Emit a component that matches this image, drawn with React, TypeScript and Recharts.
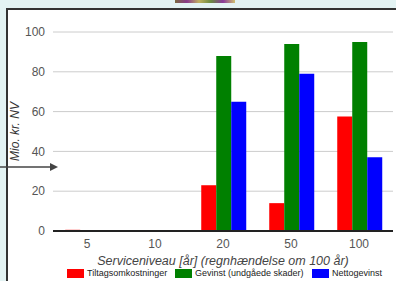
import React from "react";
import { BarChart, Bar, XAxis, YAxis, CartesianGrid } from "recharts";

const levels = ["5", "10", "20", "50", "100"];
const costs = [0.6, 0, 23, 14, 57.5];
const gains = [0, 0, 88, 94, 95];
const netGains = [0, 0, 65, 79, 37];
const yTicks = [0, 20, 40, 60, 80, 100];

const seriesNames = ["Tiltagsomkostninger", "Gevinst (undgåede skader)", "Nettogevinst"];
const seriesColors = ["#ff0000", "#008000", "#0000ff"];
const legendLeft = [67, 175, 312];

const data = levels.map((level, i) => ({
  level,
  cost: costs[i],
  gain: gains[i],
  net: netGains[i],
}));

const font = "'Liberation Sans', Arial, sans-serif";

export default function App() {
  return (
    <div style={{ position: "absolute", left: 0, top: 0, width: 396, height: 281, background: "#e3f3f3", overflow: "hidden", fontFamily: font }}>
      {/* little thumbnail strip at the top */}
      <div style={{ position: "absolute", left: 175, top: 0, width: 60, height: 3, background: "linear-gradient(90deg,#7a6a40,#8a3a8a,#c0b060,#6a8a40,#8a3a9a,#d0c070)" }} />
      <div style={{ position: "absolute", left: 6, top: 8, right: 0, bottom: 0, background: "#fff", borderTop: "2px solid #333", borderLeft: "2px solid #333" }} />

      <div style={{ position: "absolute", left: 0, top: 0 }}>
        <BarChart
          width={396}
          height={281}
          data={data}
          margin={{ top: 32, right: 3, bottom: 16, left: 0 }}
          barCategoryGap="18%"
          barGap={0}
        >
          <CartesianGrid vertical={false} stroke="#cccccc" />
          <XAxis
            dataKey="level"
            height={34}
            tickLine={false}
            axisLine={{ stroke: "#222", strokeWidth: 2 }}
            tick={{ fill: "#555", fontSize: 12, fontFamily: font }}
            label={{
              value: "Serviceniveau [år] (regnhændelse om 100 år)",
              position: "insideBottom",
              offset: 0,
              style: { fill: "#444", fontSize: 12.5, fontStyle: "italic", fontFamily: font },
            }}
          />
          <YAxis
            width={53}
            domain={[0, 100]}
            ticks={yTicks}
            axisLine={false}
            tickLine={false}
            tick={{ fill: "#555", fontSize: 12, fontFamily: font }}
            label={{
              value: "Mio. kr. NV",
              angle: -90,
              position: "insideLeft",
              offset: 15,
              style: { fill: "#333", fontSize: 12, fontStyle: "italic", textAnchor: "middle", fontFamily: font },
            }}
          />
          <Bar dataKey="cost" fill={seriesColors[0]} isAnimationActive={false} />
          <Bar dataKey="gain" fill={seriesColors[1]} isAnimationActive={false} />
          <Bar dataKey="net" fill={seriesColors[2]} isAnimationActive={false} />
        </BarChart>
      </div>

      {/* arrow pointing into the chart */}
      <svg style={{ position: "absolute", left: 0, top: 160 }} width={62} height={14}>
        <line x1={0} y1={7} x2={52} y2={7} stroke="#444" strokeWidth={1.3} />
        <polygon points="50,3 58,7 50,11" fill="#444" />
      </svg>

      {seriesNames.map((name, i) => (
        <div
          key={name}
          style={{
            position: "absolute",
            left: legendLeft[i],
            top: 268,
            height: 10,
            display: "flex",
            alignItems: "center",
            whiteSpace: "nowrap",
            fontSize: 9,
            lineHeight: "10px",
            color: "#222",
          }}
        >
          <span style={{ display: "inline-block", width: 17, height: 9, background: seriesColors[i], marginRight: 3 }} />
          <span>{name}</span>
        </div>
      ))}
    </div>
  );
}
